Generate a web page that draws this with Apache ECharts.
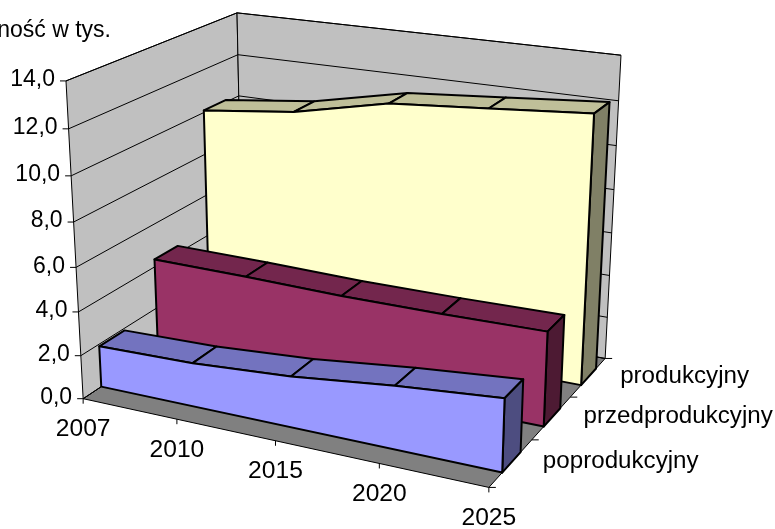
<!DOCTYPE html>
<html><head><meta charset="utf-8">
<style>html,body{margin:0;padding:0;background:#fff}#c{width:775px;height:529px}</style>
<script src="https://cdn.jsdelivr.net/npm/echarts@6/dist/echarts.min.js"></script>
</head><body><div id="c"></div>
<script>
const years = ['2007','2010','2015','2020','2025'];
const bandNames = ['poprodukcyjny','przedprodukcyjny','produkcyjny'];
const poprodukcyjny = [1.9,2.0,2.3,2.8,3.2];
const przedprodukcyjny = [4.35,4.3,4.2,4.2,4.25];
const produkcyjny = [10.1,10.6,11.55,11.9,12.25];
const yTicks = [0,2,4,6,8,10,12,14];
const yLabels = ['0,0','2,0','4,0','6,0','8,0','10,0','12,0','14,0'];

// 3D box corners on screen: [u, v, w, sx, sy]
const corners = [[0,0,0,83,399],[1,0,0,489,487],[1,1,0,605,359],[0,1,0,243,292],[0,0,1,66,81],[1,1,1,621,55],[0,1,1,237,13]];
function solveCamera(){
  const A=[],b=[];
  corners.forEach(([u,v,w,x,y])=>{
    A.push([u,v,w,1,0,0,0,0,-x*u,-x*v,-x*w]);b.push(x);
    A.push([0,0,0,0,u,v,w,1,-y*u,-y*v,-y*w]);b.push(y);
  });
  const n=11,M=[];
  for(let i=0;i<n;i++){M[i]=[];for(let j=0;j<n;j++){let s=0;A.forEach(r=>s+=r[i]*r[j]);M[i][j]=s;}let s=0;A.forEach((r,k)=>s+=r[i]*b[k]);M[i][n]=s;}
  for(let i=0;i<n;i++){let p=i;for(let k=i+1;k<n;k++)if(Math.abs(M[k][i])>Math.abs(M[p][i]))p=k;[M[i],M[p]]=[M[p],M[i]];
    for(let k=0;k<n;k++)if(k!==i){const f=M[k][i]/M[i][i];for(let j=i;j<=n;j++)M[k][j]-=f*M[i][j];}}
  return M.map((r,i)=>r[n]/r[i]);
}
const H=solveCamera();
function proj(u,v,w){const d=H[8]*u+H[9]*v+H[10]*w+1;return [(H[0]*u+H[1]*v+H[2]*w+H[3])/d,(H[4]*u+H[5]*v+H[6]*w+H[7])/d];}
function P(params,api,cat,val,v){
  const c=api.coord([cat,val]),g=params.coordSys;
  return proj((c[0]-g.x)/g.width,v,(g.y+g.height-c[1])/g.height);
}
const FONT='"Liberation Sans",Arial,sans-serif', FS=23;
const poly=(points,fill,lw)=>({type:'polygon',shape:{points},style:{fill,stroke:'#000',lineWidth:lw,lineJoin:'round'}});
const line=(a,b,lw)=>({type:'line',shape:{x1:a[0],y1:a[1],x2:b[0],y2:b[1]},style:{stroke:'#000',lineWidth:lw||1}});
const txt=(text,x,y,align,sx)=>({type:'text',x,y,scaleX:sx,style:{text,x:0,y:0,align,verticalAlign:'middle',fontFamily:FONT,fontSize:FS,fill:'#000'}});

function renderFrame(params,api){
  if(params.dataIndex!==0) return;
  const last=years.length-1, top=yTicks[yTicks.length-1];
  const p=(c,val,v)=>P(params,api,c,val,v);
  const ch=[];
  ch.push({type:'polygon',shape:{points:[p(0,0,0),p(last,0,0),p(last,0,1),p(0,0,1)]},style:{fill:'#808080',stroke:'#000',lineWidth:1}});
  ch.push({type:'polygon',shape:{points:[p(0,0,0),p(0,top,0),p(0,top,1),p(0,0,1)]},style:{fill:'#C0C0C0',stroke:'#000',lineWidth:1}});
  ch.push({type:'polygon',shape:{points:[p(0,0,1),p(0,top,1),p(last,top,1),p(last,0,1)]},style:{fill:'#C0C0C0',stroke:'#000',lineWidth:1}});
  yTicks.forEach((t,i)=>{
    const a=p(0,t,0),b=p(0,t,1),c=p(last,t,1);
    ch.push(line(a,b),line(b,c),line([a[0]-6,a[1]],a));
    ch.push(txt(yLabels[i],a[0]-11,a[1]-1,'right',1.0));
  });
  years.forEach((y,i)=>{
    const a=p(i,0,0);
    ch.push(line(a,[a[0],a[1]+5]));
    ch.push(txt(y,a[0],a[1]+31,'center',1.07));
  });
  [0,1,2,3].forEach(k=>{const a=p(last,0,k/3);ch.push(line(a,[a[0]+7,a[1]]));});
  bandNames.forEach((n,k)=>{const a=p(last,0,(k+.5)/3);ch.push(txt(n,a[0]+32,a[1]-1,'left',1.05));});
  ch.push(txt('ność w tys.',111,31,'right',1.0));
  return {type:'group',children:ch};
}
function bandSeries(k,values,front,topC,side){
  const vf=(k+.3)/3, vb=(k+.73)/3;
  return {type:'custom',coordinateSystem:'cartesian2d',z:3+(2-k),silent:true,animation:false,name:bandNames[k],
    data:values.map((v,i)=>[i,v]),
    renderItem(params,api){
      if(params.dataIndex!==0) return;
      const last=values.length-1,ch=[];
      const p=(c,val,v)=>P(params,api,c,val,v);
      const fp=[];
      values.forEach((val,i)=>fp.push(p(i,val,vf)));
      fp.push(p(last,0,vf),p(0,0,vf));
      for(let i=0;i<last;i++){
        ch.push(poly([p(i,values[i],vf),p(i+1,values[i+1],vf),p(i+1,values[i+1],vb),p(i,values[i],vb)],topC,2));
      }
      ch.push(poly([p(last,values[last],vf),p(last,values[last],vb),p(last,0,vb),p(last,0,vf)],side,2));
      ch.push(poly(fp,front,2));
      return {type:'group',children:ch};
    }};
}
const chart=echarts.init(document.getElementById('c'),null,{renderer:'canvas'});
chart.setOption({
  animation:false,
  grid:{left:100,top:100,width:400,height:300},
  xAxis:{type:'category',data:years,boundaryGap:false,show:false},
  yAxis:{type:'value',min:0,max:14,interval:2,show:false},
  series:[
    {type:'custom',coordinateSystem:'cartesian2d',z:2,silent:true,animation:false,name:'frame',data:yTicks.map(t=>[0,t]),renderItem:renderFrame},
    bandSeries(2,produkcyjny,'#FFFFCC','#BFBF99','#808066'),
    bandSeries(1,przedprodukcyjny,'#993366','#73264D','#4D1A33'),
    bandSeries(0,poprodukcyjny,'#9999FF','#7373BF','#4D4D80')
  ]
});
</script></body></html>
